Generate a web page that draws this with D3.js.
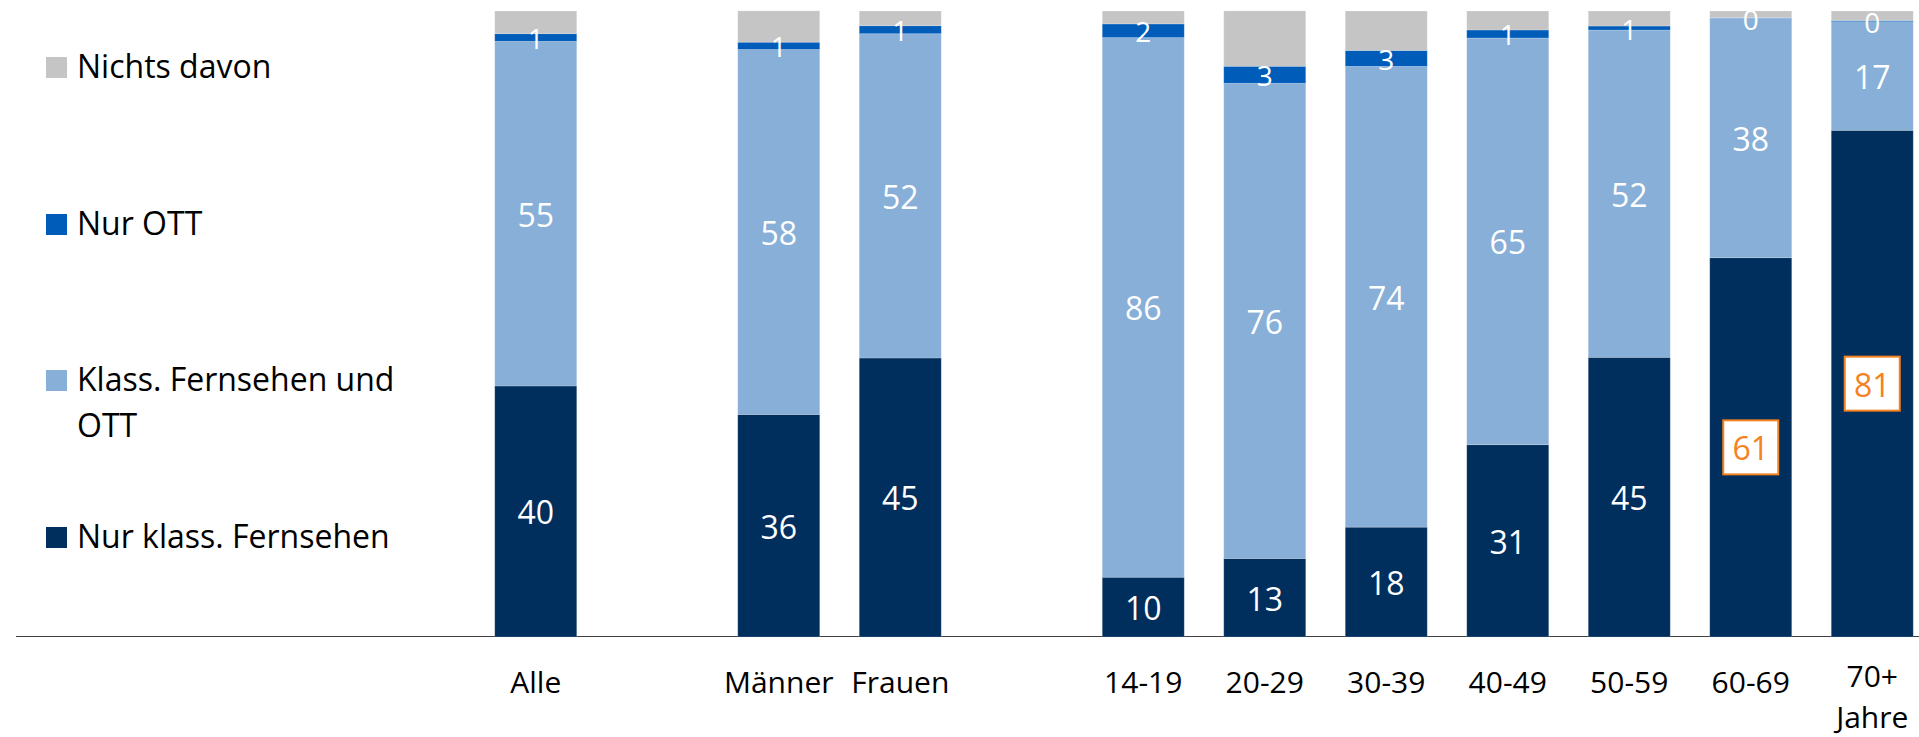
<!DOCTYPE html>
<html>
<head>
<meta charset="utf-8">
<script src="https://cdn.jsdelivr.net/npm/d3@7"></script>
<style>
  html, body { margin: 0; padding: 0; background: #fff; }
  svg { display: block; }
</style>
</head>
<body>
<svg id="chart" width="1919" height="737"></svg>
<script>
// ---- Data (percent) ----
const groups = [["Alle"], ["Männer", "Frauen"], ["14-19", "20-29", "30-39", "40-49", "50-59", "60-69", "70+ Jahre"]];
const categories = ["Alle", "Männer", "Frauen", "14-19", "20-29", "30-39", "40-49", "50-59", "60-69", "70+ Jahre"];
const tickLabels = [["Alle"], ["Männer"], ["Frauen"], ["14-19"], ["20-29"], ["30-39"], ["40-49"], ["50-59"], ["60-69"], ["70+", "Jahre"]];

const nurKlassFernsehen   = [40.1, 35.55, 44.57, 9.55, 12.55, 17.55, 30.72, 44.68, 60.59, 80.94];
const klassFernsehenUndOtt = [55.05, 58.3, 51.8, 86.2, 75.9, 73.6, 64.97, 52.28, 38.24, 17.35];
const nurOtt              = [1.23, 1.17, 1.28, 2.19, 2.72, 2.55, 1.28, 0.64, 0.1, 0.2];
const nichtsDavon         = [3.62, 5.0, 2.35, 2.06, 8.85, 6.3, 3.03, 2.4, 1.07, 1.51];

const seriesNames = ["Nur klass. Fernsehen", "Klass. Fernsehen und OTT", "Nur OTT", "Nichts davon"];
const legendLines = [["Nichts davon"], ["Nur OTT"], ["Klass. Fernsehen und", "OTT"], ["Nur klass. Fernsehen"]];
const highlighted = ["60-69", "70+ Jahre"]; // boxed labels of "Nur klass. Fernsehen"

// ---- Styles ----
const colors = {
  "Nur klass. Fernsehen": "#002E5D",
  "Klass. Fernsehen und OTT": "#87AFD7",
  "Nur OTT": "#005CB9",
  "Nichts davon": "#C5C5C5"
};
const orange = "#F5821F";
const FONT = "'Open Sans', 'Noto Sans', sans-serif";

const svg = d3.select("#chart");

// x domain with gap slots between groups
const slots = [];
groups.forEach((g, i) => {
  if (i > 0) slots.push("__gap" + i);
  g.forEach(c => slots.push(c));
});

const x = d3.scaleBand()
  .domain(slots)
  .range([475, 1933])
  .paddingInner(0.325)
  .paddingOuter(0.1625);

const y = d3.scaleLinear().domain([0, 100]).range([637, 11]);

// table for stacking
const table = categories.map((c, i) => ({
  cat: c,
  "Nur klass. Fernsehen": nurKlassFernsehen[i],
  "Klass. Fernsehen und OTT": klassFernsehenUndOtt[i],
  "Nur OTT": nurOtt[i],
  "Nichts davon": nichtsDavon[i]
}));

const stacked = d3.stack().keys(seriesNames)(table);

// axis baseline
svg.append("line")
  .attr("x1", 16).attr("x2", 1919)
  .attr("y1", 636.5).attr("y2", 636.5)
  .attr("stroke", "#404040").attr("stroke-width", 1.2);

// bars
const layers = svg.append("g").selectAll("g")
  .data(stacked).join("g")
  .attr("fill", d => colors[d.key]);

layers.selectAll("rect")
  .data(d => d.map(s => ({ key: d.key, s })))
  .join("rect")
  .attr("x", d => x(d.s.data.cat))
  .attr("width", x.bandwidth())
  .attr("y", d => y(d.s[1]))
  .attr("height", d => y(d.s[0]) - y(d.s[1]))
  .attr("stroke", "#ffffff")
  .attr("stroke-opacity", 0.25)
  .attr("stroke-width", 0.8);

// value labels
const fmt = d3.format(".0f");
const labelLayer = svg.append("g");
stacked.forEach(layer => {
  if (layer.key === "Nichts davon") return;
  const fs = layer.key === "Nur OTT" ? 28 : 32;
  layer.forEach(s => {
    const cat = s.data.cat;
    const cx = x(cat) + x.bandwidth() / 2;
    const cy = (y(s[0]) + y(s[1])) / 2;
    const isHi = layer.key === "Nur klass. Fernsehen" && highlighted.includes(cat);
    if (isHi) {
      labelLayer.append("rect")
        .attr("x", cx - 27.5).attr("y", cy - 27)
        .attr("width", 55).attr("height", 54)
        .attr("fill", "#fff")
        .attr("stroke", orange).attr("stroke-width", 2);
    }
    labelLayer.append("text")
      .attr("x", cx)
      .attr("y", cy + 0.357 * fs + 1.5)
      .attr("text-anchor", "middle")
      .attr("font-family", FONT)
      .attr("font-size", fs)
      .attr("fill", isHi ? orange : "#ffffff")
      .text(fmt(s[1] - s[0]));
  });
});

// category tick labels
const ticks = svg.append("g");
categories.forEach((c, i) => {
  const lines = tickLabels[i];
  lines.forEach((line, j) => {
    ticks.append("text")
      .attr("x", x(c) + x.bandwidth() / 2)
      .attr("y", (lines.length > 1 ? 687 : 693) + j * 41)
      .attr("text-anchor", "middle")
      .attr("font-family", FONT)
      .attr("font-size", 30)
      .attr("fill", "#000")
      .text(line);
  });
});

// legend (top to bottom: reverse of stack order)
const legendKeys = seriesNames.slice().reverse();
const legendY = [57, 214, 370, 527];
const legend = svg.append("g");
legendKeys.forEach((k, i) => {
  legend.append("rect")
    .attr("x", 46).attr("y", legendY[i])
    .attr("width", 21).attr("height", 21)
    .attr("fill", colors[k]);
  legendLines[i].forEach((line, j) => {
    legend.append("text")
      .attr("x", 77)
      .attr("y", legendY[i] + 20.5 + j * 46)
      .attr("font-family", FONT)
      .attr("font-size", 32)
      .attr("fill", "#000")
      .text(line);
  });
});
</script>
</body>
</html>
